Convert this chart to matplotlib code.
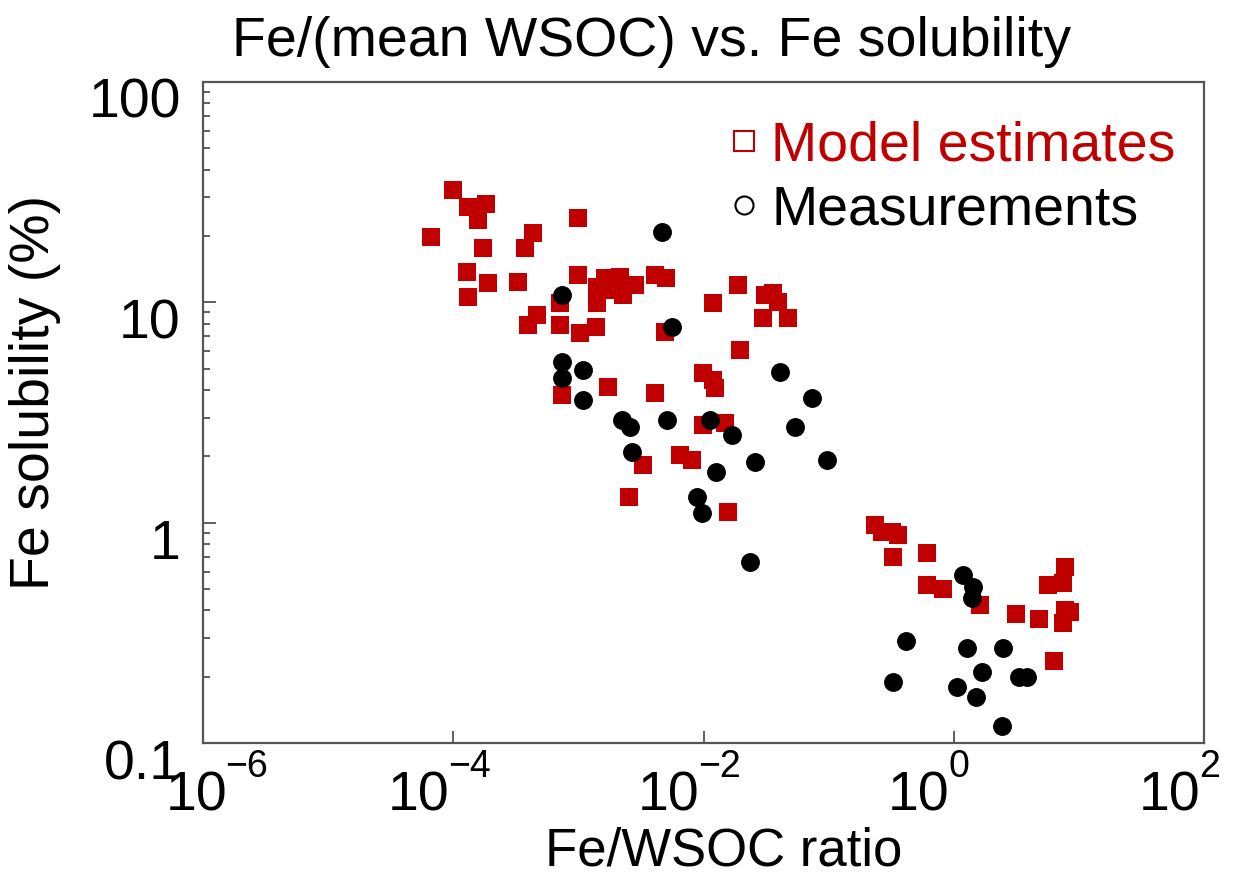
import numpy as np
import matplotlib
matplotlib.use("Agg")
import matplotlib.pyplot as plt
from matplotlib.lines import Line2D
from matplotlib.transforms import ScaledTranslation, blended_transform_factory
from matplotlib.ticker import LogLocator, NullFormatter, FixedLocator

plt.rcParams['font.family'] = ['Liberation Sans', 'DejaVu Sans']

# ---- data: Model estimates (red squares) ----
model_ratio = [6.65e-5, 1.0e-4, 1.31e-4, 1.83e-4, 1.58e-4, 1.73e-4, 4.35e-4, 3.75e-4,
               9.95e-4, 1.29e-4, 1.90e-4, 3.30e-4, 1.31e-4, 4.68e-4, 3.96e-4, 7.15e-4,
               1.03e-3, 1.38e-3, 7.41e-4, 7.15e-4, 9.95e-4, 1.63e-3, 2.15e-3, 1.41e-3,
               1.79e-3, 2.84e-3, 2.28e-3, 1.41e-3, 4.10e-3, 5.02e-3, 4.93e-3, 1.73e-3,
               4.10e-3, 9.93e-3, 1.19e-2, 1.24e-2, 9.93e-3, 1.49e-2, 6.50e-3, 8.11e-3,
               3.29e-3, 2.54e-3, 1.57e-2, 1.19e-2, 1.89e-2, 3.10e-2, 3.60e-2, 3.94e-2,
               2.99e-2, 4.74e-2, 1.96e-2,
               0.235, 0.268, 0.322, 0.360, 0.328, 0.612, 0.612, 0.822, 1.63, 3.15,
               4.82, 5.69, 7.78, 7.50, 7.78, 8.53, 7.50, 6.35]
model_sol = [19.8, 32.3, 27.1, 27.9, 23.6, 17.6, 20.6, 17.6,
             24.1, 13.7, 12.2, 12.4, 10.6, 8.76, 7.89, 7.89,
             7.26, 7.73, 3.79, 9.93, 13.3, 12.9, 13.0, 11.7,
             11.4, 12.0, 10.8, 9.93, 13.3, 12.9, 7.33, 4.13,
             3.87, 4.78, 4.44, 4.08, 2.77, 2.83, 2.03, 1.92,
             1.82, 1.31, 1.12, 9.93, 12.0, 10.8, 11.0, 10.0,
             8.49, 8.49, 6.07,
             0.975, 0.906, 0.906, 0.879, 0.698, 0.728, 0.521, 0.500, 0.423, 0.385,
             0.365, 0.521, 0.629, 0.532, 0.401, 0.393, 0.350, 0.236]

# ---- data: Measurements (black circles) ----
meas_ratio = [4.67e-3, 7.41e-4, 5.61e-3, 7.41e-4, 7.41e-4, 1.09e-3, 1.09e-3, 2.23e-3,
              2.59e-3, 2.69e-3, 5.12e-3, 1.13e-2, 1.69e-2, 1.26e-2, 8.89e-3, 9.75e-3,
              2.59e-2, 2.36e-2, 4.09e-2, 7.38e-2, 5.40e-2, 9.73e-2,
              1.19, 1.43, 1.40, 0.417, 0.328, 1.28, 2.48, 1.69, 1.06, 1.51, 3.33, 3.86, 2.44]
meas_sol = [20.8, 10.8, 7.73, 5.36, 4.53, 4.93, 3.60, 2.92,
            2.72, 2.09, 2.92, 2.92, 2.50, 1.70, 1.31, 1.11,
            1.88, 0.662, 4.83, 3.68, 2.72, 1.92,
            0.578, 0.510, 0.455, 0.290, 0.189, 0.270, 0.270, 0.210, 0.179, 0.162, 0.199, 0.199, 0.119]

x_ticks = [1e-6, 1e-4, 1e-2, 1e0, 1e2]
x_exponents = ['\u22126', '\u22124', '\u22122', '0', '2']
y_ticks = [0.1, 1, 10, 100]
y_ticklabels = ['0.1', '1', '10', '100']

RED = '#C00000'

fig = plt.figure(figsize=(12.58, 8.82), dpi=100)
ax = fig.add_axes([203/1258, 1 - 743/882, (1204-203)/1258, (743-82)/882])

ax.scatter(model_ratio, model_sol, marker='s', s=150, color=RED, linewidths=0, zorder=2)
ax.scatter(meas_ratio, meas_sol, marker='o', s=185, color='black', linewidths=0, zorder=3)

ax.set_xscale('log')
ax.set_yscale('log')
ax.set_xlim(1e-6, 1e2)
ax.set_ylim(0.1, 100)

ax.xaxis.set_major_locator(FixedLocator(x_ticks))
ax.set_xticklabels(['10'] * len(x_ticks))
ax.xaxis.set_minor_locator(FixedLocator([]))
ax.yaxis.set_major_locator(FixedLocator(y_ticks))
ax.set_yticklabels(y_ticklabels)
ax.yaxis.set_minor_locator(LogLocator(base=10, subs=np.arange(2, 10)))
ax.yaxis.set_minor_formatter(NullFormatter())

ax.tick_params(axis='both', which='both', direction='in', color='#444444',
               top=False, right=False)
ax.tick_params(axis='x', which='major', length=9, width=1.2, labelsize=40, pad=20)
ax.tick_params(axis='y', which='major', length=9, width=1.2, labelsize=40, pad=16)
ax.tick_params(axis='y', which='minor', length=5, width=1.2)

for sp in ax.spines.values():
    sp.set_color('#555555')
    sp.set_linewidth(1.6)

# x tick labels: base "10" right-aligned at the tick, exponent as superscript text
trans_x = blended_transform_factory(ax.transData, ax.transAxes)
for i, lab in enumerate(ax.get_xticklabels()):
    dx = 24 if i == 0 else -4
    lab.set_horizontalalignment('right')
    lab.set_transform(lab.get_transform() + ScaledTranslation(dx/100, 0, fig.dpi_scale_trans))
for i, (xt, ex) in enumerate(zip(x_ticks, x_exponents)):
    dx = 22 if i == 0 else -5
    ax.text(xt, 0, ex, fontsize=27, ha='left', va='top', clip_on=False,
            transform=trans_x + ScaledTranslation(dx/100, -6/100, fig.dpi_scale_trans))

for lab in ax.get_yticklabels():
    lab.set_transform(lab.get_transform() + ScaledTranslation(0, -16/100, fig.dpi_scale_trans))

ax.set_xlabel('Fe/WSOC ratio', fontsize=38)
ax.xaxis.set_label_coords(0.52, -0.127)
ax.set_ylabel('Fe solubility (%)', fontsize=40)
ax.yaxis.set_label_coords(-0.142, 0.53)

fig.text(651/1258, 1 - 42/882, 'Fe/(mean WSOC) vs. Fe solubility', fontsize=40,
         ha='center', va='center')

handles = [Line2D([], [], marker='s', linestyle='none', markerfacecolor='none',
                  markeredgecolor=RED, markeredgewidth=1.5, markersize=15),
           Line2D([], [], marker='o', linestyle='none', markerfacecolor='none',
                  markeredgecolor='black', markeredgewidth=1.5, markersize=13)]
leg = ax.legend(handles, ['Model estimates', 'Measurements'], loc='upper right',
                bbox_to_anchor=(1.005, 0.992), frameon=False, fontsize=40,
                handlelength=0.6, handletextpad=0.2, labelspacing=0.22,
                labelcolor=[RED, 'black'], borderaxespad=0.2)

fig.savefig('out.png', dpi=100)
